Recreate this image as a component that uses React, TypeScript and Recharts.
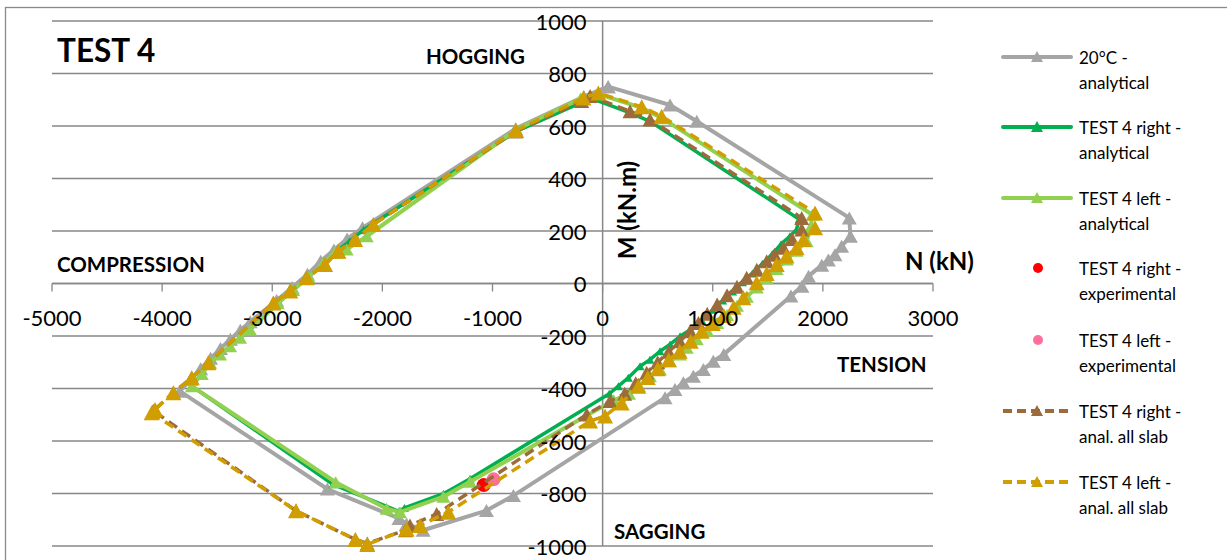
import React from "react";
import { ScatterChart, Scatter, XAxis, YAxis, CartesianGrid, ReferenceLine } from "recharts";

// axis ticks
const xTicks = [-5000, -4000, -3000, -2000, -1000, 0, 1000, 2000, 3000];
const yTicks = [-1000, -800, -600, -400, -200, 0, 200, 400, 600, 800, 1000];

// [N (kN), M (kN.m)] pairs, each polygon closed
const ambient20: [number, number][] = [
  [50, 750], [612, 680], [855, 618], [2240, 250], [2250, 180], [2170, 142], [2110, 110],
  [2050, 90], [1990, 70], [1870, 28], [1810, -10], [1710, -48], [1100, -270], [1005, -296],
  [915, -328], [824, -353], [733, -378], [657, -404], [567, -435], [-810, -808], [-1055, -865],
  [-1630, -940], [-1780, -916], [-1850, -895], [-2500, -783], [-3840, -410], [-3740, -365],
  [-3650, -325], [-3560, -285], [-3470, -248], [-3380, -212], [-3290, -178], [-3200, -146],
  [-2960, -65], [-2820, -15], [-2680, 35], [-2560, 85], [-2440, 128], [-2320, 170],
  [-2180, 212], [-790, 590], [-170, 712], [50, 750],
];

const rightAnalytical: [number, number][] = [
  [-790, 578], [-190, 690], [-110, 706], [250, 650], [430, 618], [1785, 245], [1760, 205],
  [1700, 180], [1620, 150], [1540, 112], [1450, 75], [1360, 38], [1270, 5], [1180, -30],
  [1090, -65], [1000, -100], [900, -140], [800, -175], [703, -201], [612, -232], [521, -258],
  [430, -290], [340, -315], [233, -359], [143, -391], [60, -420], [-1204, -744], [-1446, -801],
  [-1800, -855], [-1850, -868], [-2450, -765], [-3730, -391], [-3640, -345], [-3565, -302],
  [-3474, -270], [-3383, -239], [-3292, -207], [-3202, -175], [-2950, -75], [-2810, -25],
  [-2670, 25], [-2540, 75], [-2430, 118], [-2300, 160], [-2170, 205], [-790, 578],
];

const leftAnalytical: [number, number][] = [
  [-790, 585], [-200, 705], [-40, 722], [350, 670], [540, 630], [1905, 262], [1890, 215],
  [1853, 161], [1760, 125], [1672, 91], [1580, 55], [1490, 20], [1400, -15], [1310, -50],
  [1220, -85], [1130, -120], [1040, -150], [950, -180], [855, -212], [764, -245], [703, -270],
  [612, -296], [521, -328], [430, -353], [330, -390], [240, -420], [100, -445], [-1204, -755],
  [-1446, -812], [-1840, -871], [-1961, -858], [-2424, -757], [-3730, -391], [-3640, -345],
  [-3565, -302], [-3474, -270], [-3383, -239], [-3292, -207], [-3202, -175], [-2950, -75],
  [-2810, -25], [-2670, 25], [-2540, 75], [-2430, 118], [-2324, 130], [-2142, 180],
  [-790, 585],
];

const rightExperimental: [number, number][] = [[-1080, -768]];
const leftExperimental: [number, number][] = [[-990, -746]];

const rightAllSlab: [number, number][] = [
  [-790, 580], [-190, 695], [-114, 714], [249, 656], [430, 625], [1808, 250], [1808, 206],
  [1720, 170], [1641, 136], [1560, 110], [1490, 85], [1400, 52], [1308, 22], [1220, -12],
  [1130, -45], [1040, -80], [950, -115], [870, -150], [794, -182], [700, -220], [600, -260],
  [500, -300], [400, -340], [300, -380], [200, -420], [67, -448], [-144, -499], [-1507, -878],
  [-1749, -922], [-1790, -940], [-2137, -990], [-2245, -975], [-2784, -866], [-4080, -485],
  [-3898, -416], [-3731, -359], [-3580, -302], [-2990, -74], [-2838, -29], [-2687, 22],
  [-2521, 72], [-2400, 123], [-2248, 168], [-2082, 225], [-790, 580],
];

const leftAllSlab: [number, number][] = [
  [-787, 583], [-175, 707], [-39, 726], [355, 673], [536, 637], [1929, 269], [1929, 212],
  [1823, 168], [1762, 136], [1670, 105], [1581, 72], [1490, 38], [1399, 3], [1278, -54],
  [1190, -90], [1100, -122], [1000, -152], [900, -182], [800, -220], [700, -258], [600, -290],
  [500, -325], [410, -358], [324, -391], [173, -455], [22, -505], [-114, -524], [-1401, -871],
  [-1658, -922], [-1780, -936], [-2137, -994], [-2245, -975], [-2784, -866], [-4095, -492],
  [-4064, -480], [-3898, -416], [-3731, -359], [-3580, -302], [-2990, -74], [-2838, -29],
  [-2687, 22], [-2521, 72], [-2400, 123], [-2248, 168], [-2082, 225], [-787, 583],
];

const W = 1227;
const H = 560;
const LEFT = 52;
const TOP = 21;
const PLOT_W = 881;
const PLOT_H = 525;
const AXIS_PAD = 1;
const X_MIN = -5000, X_MAX = 3000, Y_MIN = -1000, Y_MAX = 1000;
const ZERO_X = LEFT + (PLOT_W * (0 - X_MIN)) / (X_MAX - X_MIN);
const ZERO_Y = TOP + (PLOT_H * (Y_MAX - 0)) / (Y_MAX - Y_MIN);

const FONT = "Lato, 'Open Sans', sans-serif";
const GRID = "#878787";

const toPts = (arr: [number, number][]) => arr.map(([n, m]) => ({ n, m }));

const tri = (color: string, w: number, h: number) => (p: any) => {
  const { cx, cy } = p;
  if (cx == null || cy == null) return <g />;
  return (
    <polygon
      points={`${cx - w / 2},${cy + h / 2} ${cx + w / 2},${cy + h / 2} ${cx},${cy - h / 2}`}
      fill={color}
    />
  );
};

const dot = (color: string, r: number) => (p: any) => {
  const { cx, cy } = p;
  if (cx == null || cy == null) return <g />;
  return <circle cx={cx} cy={cy} r={r} fill={color} />;
};

const XTick = (props: any) => {
  const { x, payload } = props;
  return (
    <g>
      <line x1={x} x2={x} y1={ZERO_Y} y2={ZERO_Y + 8} stroke={GRID} strokeWidth={1.3} />
      <text x={x} y={ZERO_Y + 34} textAnchor="middle" dominantBaseline="central"
        fontFamily={FONT} fontSize={22} fill="#000">
        {payload.value}
      </text>
    </g>
  );
};

const YTick = (props: any) => {
  const { y, payload } = props;
  return (
    <text x={ZERO_X - 16} y={y} textAnchor="end" dominantBaseline="central"
      fontFamily={FONT} fontSize={22} fill="#000">
      {payload.value}
    </text>
  );
};

const series = [
  { name: ["20°C -", "analytical"], data: ambient20, color: "#A5A5A5", width: 4, dash: undefined, marker: [15, 13] },
  { name: ["TEST 4 right -", "analytical"], data: rightAnalytical, color: "#00B050", width: 3.5, dash: undefined, marker: [9, 8] },
  { name: ["TEST 4 left -", "analytical"], data: leftAnalytical, color: "#92D050", width: 4, dash: undefined, marker: [14, 12] },
  { name: ["TEST 4 right -", "experimental"], data: rightExperimental, color: "#FF0000", width: 0, dash: undefined, marker: null },
  { name: ["TEST 4 left -", "experimental"], data: leftExperimental, color: "#FF6F9C", width: 0, dash: undefined, marker: null },
  { name: ["TEST 4 right -", "anal. all slab"], data: rightAllSlab, color: "#9C6B3B", width: 3.5, dash: "10 6", marker: [15, 14] },
  { name: ["TEST 4 left -", "anal. all slab"], data: leftAllSlab, color: "#D09E00", width: 3.5, dash: "10 6", marker: [16, 15] },
];

const legendY = [57, 127, 198, 268, 340, 411, 482];

export default function App() {
  return (
    <div style={{ position: "absolute", left: 0, top: 0, width: W, height: H, overflow: "hidden", background: "#fff" }}>
      <ScatterChart width={W} height={H}
        margin={{
          top: TOP,
          right: W - LEFT - PLOT_W,
          bottom: H - TOP - PLOT_H - AXIS_PAD,
          left: LEFT - AXIS_PAD,
        }}>
        <CartesianGrid vertical={false} stroke={GRID} strokeWidth={1.3} />
        <XAxis type="number" dataKey="n" domain={[X_MIN, X_MAX]} ticks={xTicks} interval={0}
          axisLine={false} tickLine={false} height={AXIS_PAD} tick={XTick} />
        <YAxis type="number" dataKey="m" domain={[Y_MIN, Y_MAX]} ticks={yTicks} interval={0}
          axisLine={false} tickLine={false} width={AXIS_PAD} tick={YTick} />
        <ReferenceLine x={0} stroke={GRID} strokeWidth={1.5} />
        <ReferenceLine y={0} stroke={GRID} strokeWidth={1.5} />
        {series.map((s, i) =>
          s.marker ? (
            <Scatter key={i} data={toPts(s.data)} fill={s.color} lineType="joint"
              line={{ stroke: s.color, strokeWidth: s.width, strokeDasharray: s.dash, strokeLinejoin: "round" }}
              shape={tri(s.color, s.marker[0], s.marker[1])} isAnimationActive={false} />
          ) : (
            <Scatter key={i} data={toPts(s.data)} fill={s.color} shape={dot(s.color, 7)}
              isAnimationActive={false} />
          )
        )}
      </ScatterChart>
      <svg width={W} height={H} style={{ position: "absolute", left: 0, top: 0, pointerEvents: "none" }}
        fontFamily={FONT}>
        <rect x={5.5} y={7.5} width={W + 20} height={H + 20} fill="none" stroke="#898989" strokeWidth={1.3} />
        <text x={57} y={62} fontSize={31.5} fontWeight={700}>TEST 4</text>
        <text x={426} y={64} fontSize={20.5} fontWeight={700}>HOGGING</text>
        <text x={57} y={272} fontSize={20.5} fontWeight={700}>COMPRESSION</text>
        <text x={905} y={270} fontSize={24} fontWeight={700}>N (kN)</text>
        <text x={837} y={372} fontSize={20.5} fontWeight={700}>TENSION</text>
        <text x={614} y={539} fontSize={20.5} fontWeight={700}>SAGGING</text>
        <text transform={`translate(636,210) rotate(-90)`} textAnchor="middle" fontSize={24} fontWeight={700}>
          M (kN.m)
        </text>
        {series.map((s, i) => {
          const y = legendY[i];
          return (
            <g key={i}>
              {s.marker ? (
                <>
                  <line x1={1003} x2={1071} y1={y} y2={y} stroke={s.color} strokeWidth={4}
                    strokeDasharray={s.dash ? "9 5" : undefined} strokeLinecap={s.dash ? "butt" : "round"} />
                  <polygon points={`${1031},${y + 5} ${1043},${y + 5} ${1037},${y - 6}`} fill={s.color} />
                </>
              ) : (
                <circle cx={1038} cy={y} r={5} fill={s.color} />
              )}
              <text x={1079} y={y} dominantBaseline="central" fontSize={17}>{s.name[0]}</text>
              <text x={1079} y={y + 25} dominantBaseline="central" fontSize={17}>{s.name[1]}</text>
            </g>
          );
        })}
      </svg>
    </div>
  );
}
